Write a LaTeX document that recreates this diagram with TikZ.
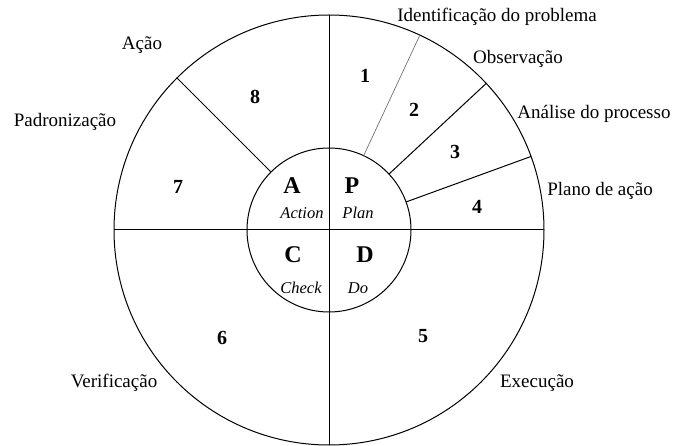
\documentclass[tikz,border=0pt]{standalone}
\usepackage{fontspec}
\setmainfont{Liberation Serif}
\usetikzlibrary{calc}
\begin{document}
\begin{tikzpicture}[x=1pt,y=-1pt,
  ring/.style={line width=1pt,black},
  lightline/.style={line width=0.7pt,black!55},
  lbl/.style={font=\fontsize{19}{21}\selectfont, inner sep=0pt},
  num/.style={font=\fontsize{20}{22}\selectfont\bfseries, inner sep=0pt},
  bigl/.style={font=\fontsize{24}{26}\selectfont\bfseries, inner sep=0pt},
  subl/.style={font=\fontsize{16.5}{18}\selectfont\itshape, inner sep=0pt}]
\useasboundingbox[fill=white] (0,0) rectangle (675,446);
\coordinate (O) at (329,230);
\def\R{215}
\def\r{82}
% circles
\draw[ring] (O) circle[radius=\R];
\draw[ring] (O) circle[radius=\r];
% cross
\draw[ring] ([xshift=-\R pt]O) -- ([xshift=\R pt]O);
\draw[ring] ([yshift=-\R pt]O) -- ([yshift=\R pt]O);
% dividers (y axis points down, so screen angle a is written -a)
\draw[ring] ($(O)+(-135:\r)$) -- ($(O)+(-135:\R)$);
\draw[lightline] ($(O)+(-65:\r)$) -- ($(O)+(-65:\R)$);
\draw[ring] ($(O)+(-43:\r)$) -- ($(O)+(-43:\R)$);
\draw[ring] ($(O)+(-20:\r)$) -- ($(O)+(-20:\R)$);
% outer labels
\node[lbl] (l1) at (497,17) {Identificação do problema};
\node[lbl] (l2) at (518,59) {Observação};
\node[lbl] (l3) at (594,114) {Análise do processo};
\node[lbl] (l4) at (600,191) {Plano de ação};
\node[lbl] (l5) at (537,383) {Execução};
\node[lbl] (l6) at (114,383) {Verificação};
\node[lbl] (l7) at (65,122) {Padronização};
\node[lbl] (l8) at (142,45) {Ação};
% numbers
\node[num] (n1) at (365,76) {1};
\node[num] (n2) at (414,110) {2};
\node[num] (n3) at (455,152) {3};
\node[num] (n4) at (477,207) {4};
\node[num] (n5) at (423,336) {5};
\node[num] (n6) at (222,338) {6};
\node[num] (n7) at (178,187) {7};
\node[num] (n8) at (255,97) {8};
% PDCA letters
\node[bigl] (A) at (292,186) {A};
\node[bigl] (P) at (352,186) {P};
\node[bigl] (C) at (293,255) {C};
\node[bigl] (D) at (365,255) {D};
\node[subl] (Aa) at (302,213) {Action};
\node[subl] (Pp) at (358,213) {Plan};
\node[subl] (Cc) at (301,288) {Check};
\node[subl] (Dd) at (358,288) {Do};
\end{tikzpicture}
\end{document}
